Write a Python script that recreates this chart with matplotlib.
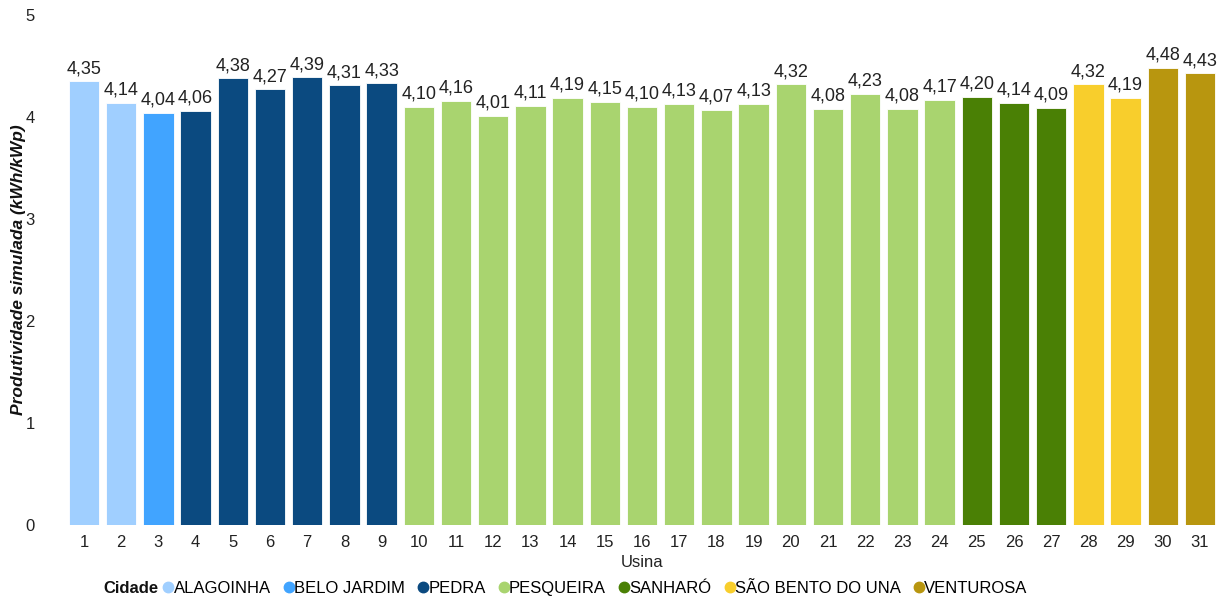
import matplotlib.pyplot as plt
from matplotlib.lines import Line2D

plt.rcParams['font.family'] = ['Liberation Sans', 'DejaVu Sans']

usinas = list(range(1, 32))
produtividade = [4.35, 4.14, 4.04, 4.06, 4.38, 4.27, 4.39, 4.31, 4.33,
                 4.10, 4.16, 4.01, 4.11, 4.19, 4.15, 4.10, 4.13, 4.07, 4.13,
                 4.32, 4.08, 4.23, 4.08, 4.17, 4.20, 4.14, 4.09, 4.32, 4.19,
                 4.48, 4.43]
cidade = (['ALAGOINHA'] * 2 + ['BELO JARDIM'] + ['PEDRA'] * 6 +
          ['PESQUEIRA'] * 15 + ['SANHARÓ'] * 3 + ['SÃO BENTO DO UNA'] * 2 +
          ['VENTUROSA'] * 2)
cidades = ['ALAGOINHA', 'BELO JARDIM', 'PEDRA', 'PESQUEIRA', 'SANHARÓ',
           'SÃO BENTO DO UNA', 'VENTUROSA']
cores = ['#a0cfff', '#41a4ff', '#0b4a80', '#a9d46f', '#4a8005',
         '#f8ce2c', '#b8960f']
cor_cidade = dict(zip(cidades, cores))

fig = plt.figure(figsize=(12.3, 5.98), dpi=100)
ax = fig.add_axes([0.0532, 0.122, 0.9375, 0.853])

ax.bar(usinas, produtividade, width=0.82,
       color=[cor_cidade[c] for c in cidade], edgecolor='white', linewidth=0.6)
for x, v in zip(usinas, produtividade):
    ax.text(x, v + 0.04, f'{v:.2f}'.replace('.', ','), ha='center',
            va='bottom', fontsize=13, color='#222222')

ax.set_xlim(0.5, 31.5)
ax.set_ylim(0, 5)
ax.set_xticks(usinas)
ax.set_yticks([0, 1, 2, 3, 4, 5])
ax.tick_params(length=0, labelsize=12, colors='#222222')
ax.tick_params(axis='x', pad=7)
ax.tick_params(axis='y', pad=22)
for s in ax.spines.values():
    s.set_visible(False)
ax.set_xlabel('Usina', fontsize=12, color='#222222', labelpad=4)
ax.set_ylabel('Produtividade simulada (kWh/kWp)', fontsize=12.5,
              fontstyle='italic', fontweight='bold', color='#111111')
ax.yaxis.set_label_coords(-0.034, 0.5)

handles = [Line2D([], [], marker='o', linestyle='', markersize=7.5,
                  markerfacecolor=c, markeredgecolor=c) for c in cores]
fig.text(0.084, 0.016, 'Cidade', fontsize=12, fontweight='bold',
         color='#111111', va='center', ha='left')
fig.legend(handles, cidades, loc='center', bbox_to_anchor=(0.482, 0.016),
           ncol=7, frameon=False, fontsize=12, handletextpad=-0.3,
           columnspacing=0.5, handlelength=1.2, borderaxespad=0)

fig.savefig('out.png', dpi=100)
